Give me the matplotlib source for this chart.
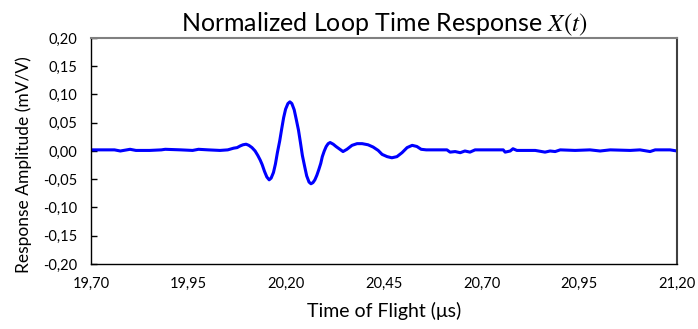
import numpy as np
import matplotlib
matplotlib.use('Agg')
import matplotlib.pyplot as plt
from matplotlib.ticker import FuncFormatter

# time of flight (us) and normalized response (mV/V)
t = [19.700, 19.760, 19.775, 19.800, 19.815, 19.850, 19.880, 19.890, 19.930, 19.960,
     19.975, 20.000, 20.030, 20.050, 20.065, 20.074, 20.082, 20.089, 20.097, 20.104,
     20.112, 20.120, 20.127, 20.133, 20.138, 20.144, 20.150, 20.156, 20.161, 20.167,
     20.172, 20.177, 20.183, 20.188, 20.193, 20.198, 20.204, 20.209, 20.214, 20.220,
     20.225, 20.231, 20.236, 20.241, 20.247, 20.252, 20.258, 20.263, 20.268, 20.273,
     20.278, 20.283, 20.288, 20.292, 20.297, 20.302, 20.307, 20.312, 20.320, 20.327,
     20.337, 20.345, 20.355, 20.368, 20.381, 20.394, 20.409, 20.422, 20.435, 20.445,
     20.458, 20.470, 20.483, 20.496, 20.509, 20.522, 20.534, 20.545, 20.558, 20.593,
     20.611, 20.619, 20.632, 20.645, 20.657, 20.670, 20.683, 20.721, 20.755, 20.760,
     20.773, 20.780, 20.790, 20.837, 20.862, 20.875, 20.888, 20.901, 20.939, 20.977,
     21.003, 21.029, 21.080, 21.105, 21.131, 21.144, 21.182, 21.200]
x_t = [0.002, 0.002, 0.000, 0.003, 0.001, 0.001, 0.002, 0.003, 0.002, 0.001,
       0.003, 0.002, 0.001, 0.002, 0.005, 0.006, 0.009, 0.011, 0.012, 0.010,
       0.006, 0.000, -0.008, -0.016, -0.024, -0.036, -0.046, -0.051, -0.048, -0.038,
       -0.023, -0.003, 0.018, 0.039, 0.059, 0.074, 0.084, 0.087, 0.084, 0.073,
       0.057, 0.037, 0.015, -0.008, -0.028, -0.044, -0.055, -0.058, -0.056, -0.051,
       -0.043, -0.033, -0.022, -0.010, 0.000, 0.008, 0.013, 0.015, 0.012, 0.008,
       0.003, -0.001, 0.003, 0.010, 0.013, 0.013, 0.011, 0.007, 0.001, -0.006,
       -0.010, -0.012, -0.010, -0.003, 0.006, 0.010, 0.008, 0.003, 0.002, 0.002,
       0.002, -0.002, -0.001, -0.003, 0.000, -0.002, 0.002, 0.002, 0.002, -0.002,
       0.000, 0.004, 0.001, 0.001, -0.002, 0.000, -0.001, 0.002, 0.001, 0.002,
       0.000, 0.002, 0.001, 0.002, -0.001, 0.002, 0.002, 0.000]

x_ticks = [19.70, 19.95, 20.20, 20.45, 20.70, 20.95, 21.20]
y_ticks = [-0.20, -0.15, -0.10, -0.05, 0.00, 0.05, 0.10, 0.15, 0.20]

plt.rcParams['font.family'] = ['Lato', 'DejaVu Sans']
plt.rcParams['mathtext.fontset'] = 'stix'

fig = plt.figure(figsize=(6.98, 3.29), dpi=100)
ax = fig.add_axes([0.1304, 0.1976, 0.8396, 0.6869])

ax.plot(t, x_t, color='#0000ff', lw=2.2, solid_joinstyle='round', solid_capstyle='round')

ax.set_xlim(19.70, 21.20)
ax.set_ylim(-0.20, 0.20)
ax.set_xticks(x_ticks)
ax.set_yticks(y_ticks)
comma = lambda v, p: ('%.2f' % v).replace('.', ',').replace('-0,00', '0,00')
ax.xaxis.set_major_formatter(FuncFormatter(comma))
ax.yaxis.set_major_formatter(FuncFormatter(comma))
ax.tick_params(axis='y', direction='in', length=4, width=1, labelsize=10.5, pad=10)
ax.tick_params(axis='x', length=0, labelsize=10.5, pad=9)

for side in ['left', 'bottom']:
    ax.spines[side].set_color('black')
    ax.spines[side].set_linewidth(1)
ax.spines['top'].set_color('#808080')
ax.spines['top'].set_linewidth(1.5)
ax.spines['right'].set_color('#404040')
ax.spines['right'].set_linewidth(1.5)

ax.set_title('Normalized Loop Time Response $X(t)$', fontsize=18, pad=5)
ax.set_xlabel('Time of Flight (\u03bcs)', fontsize=14, labelpad=8)
ax.set_ylabel('Response Amplitude (mV/V)', fontsize=12.5)
ax.yaxis.set_label_coords(-0.101, 0.44)

fig.savefig('out.png', dpi=100)
